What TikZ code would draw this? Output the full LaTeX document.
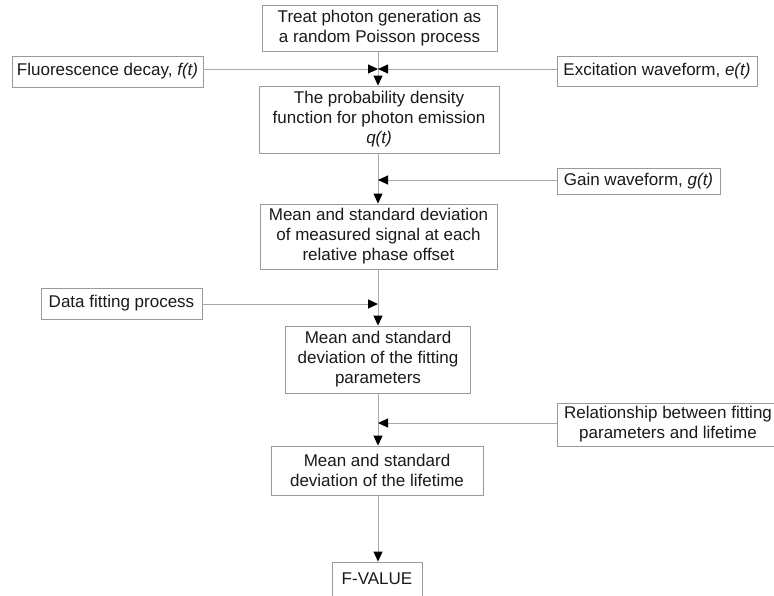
\documentclass[tikz,border=0pt]{standalone}
\usepackage{fontspec}
\setmainfont{Liberation Sans}
\usetikzlibrary{arrows.meta}
\definecolor{boxgray}{HTML}{9A9A9A}
\definecolor{linegray}{HTML}{A8A8A8}
\definecolor{txt}{HTML}{1A1A1A}
\begin{document}
\begin{tikzpicture}[x=1pt,y=-1pt,
  box/.style={draw=boxgray, line width=0.9pt, inner sep=0pt, align=center,
    font=\fontsize{17}{20}\selectfont, text=txt},
  conn/.style={draw=linegray, line width=1pt},
  arr/.style={conn, -{Triangle[length=10pt,width=9pt,color=black]}}]
\clip (0,0) rectangle (774,595);
\useasboundingbox (0,0) rectangle (774,595);
\fill[white] (0,0) rectangle (774,595);

\node[box, minimum width=235pt, minimum height=46pt] (top) at (379.5,28) {Treat photon generation as\\a random Poisson process};
\node[box, minimum width=191pt, minimum height=31pt] (fluo) at (107.5,71.5) {Fluorescence decay, \textit{f(t)}};
\node[box, minimum width=200pt, minimum height=30pt] (exc) at (657,71) {Excitation waveform, \textit{e(t)}};
\node[box, minimum width=240pt, minimum height=67pt] (prob) at (379,119.5) {The probability density\\function for photon emission\\\textit{q(t)}};
\node[box, minimum width=163pt, minimum height=26pt] (gain) at (638.5,181) {Gain waveform, \textit{g(t)}};
\node[box, minimum width=237pt, minimum height=65pt] (meas) at (378.5,236.5) {Mean and standard deviation\\of measured signal at each\\relative phase offset};
\node[box, minimum width=161pt, minimum height=31pt] (fitproc) at (121.5,303.5) {Data fitting process};
\node[box, minimum width=185pt, minimum height=67pt] (fitp) at (378,359.5) {Mean and standard\\deviation of the fitting\\parameters};
\node[box, minimum width=222pt, minimum height=43pt] (rel) at (668,424.5) {Relationship between fitting\\parameters and lifetime};
\node[box, minimum width=212pt, minimum height=49pt] (life) at (377,470.5) {Mean and standard\\deviation of the lifetime};
\node[box, minimum width=90pt, minimum height=34pt] (fval) at (377,579) {F-VALUE};

\coordinate (j1) at (378,69);
\coordinate (j2) at (378,180);
\coordinate (j3) at (378,304);
\coordinate (j4) at (378,423);

\draw[arr] (top.south -| j1) -- (prob.north -| j1);
\draw[arr] (fluo.east |- j1) -- (j1);
\draw[arr] (exc.west |- j1) -- (j1);
\draw[arr] (prob.south -| j2) -- (meas.north -| j2);
\draw[arr] (gain.west |- j2) -- (j2);
\draw[arr] (meas.south -| j3) -- (fitp.north -| j3);
\draw[arr] (fitproc.east |- j3) -- (j3);
\draw[arr] (fitp.south -| j4) -- (life.north -| j4);
\draw[arr] (rel.west |- j4) -- (j4);
\draw[arr] (life.south -| j4) -- (fval.north -| j4);
\end{tikzpicture}
\end{document}
